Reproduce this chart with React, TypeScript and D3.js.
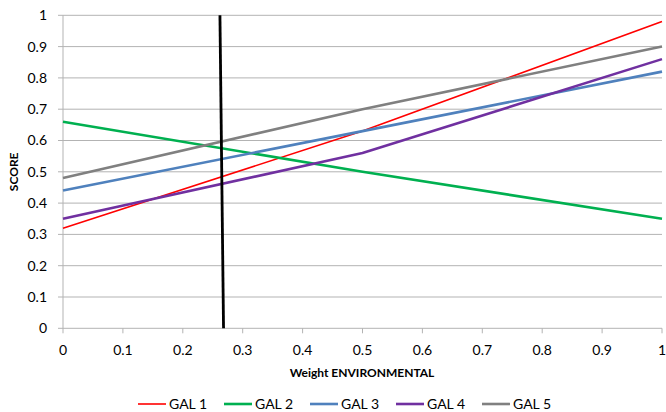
import React from "react";
import * as d3 from "d3";

const xValues = [0, 0.5, 1];
const gal1 = [0.32, 0.63, 0.98];
const gal2 = [0.66, 0.5, 0.35];
const gal3 = [0.44, 0.63, 0.82];
const gal4 = [0.35, 0.56, 0.86];
const gal5 = [0.48, 0.7, 0.9];
const seriesNames = ["GAL 1", "GAL 2", "GAL 3", "GAL 4", "GAL 5"];
const colors = ["#ff0000", "#00b050", "#4f81bd", "#7030a0", "#808080"];
const widths = [1.6, 2.6, 2.6, 2.6, 2.6];
const markerX = [0.262, 0.268];
const markerY = [1, 0];
const xTicks = [0, 0.1, 0.2, 0.3, 0.4, 0.5, 0.6, 0.7, 0.8, 0.9, 1];
const yTicks = [0, 0.1, 0.2, 0.3, 0.4, 0.5, 0.6, 0.7, 0.8, 0.9, 1];

export default function App() {
  const W = 666, H = 412;
  const x = d3.scaleLinear().domain([0, 1]).range([63, 662]);
  const y = d3.scaleLinear().domain([0, 1]).range([328.3, 15.3]);
  const data = [gal1, gal2, gal3, gal4, gal5];
  const line = d3.line<[number, number]>().x(d => x(d[0])).y(d => y(d[1]));
  const font = "Lato, 'Open Sans', sans-serif";
  const legendX = [138, 224, 310, 396, 482];
  return (
    <svg width={W} height={H} style={{ position: "absolute", left: 0, top: 0, background: "#fff" }}>
      {yTicks.map(t => (
        <g key={"y" + t}>
          <line x1={58} x2={662} y1={y(t)} y2={y(t)} stroke="#b3b3b3" strokeWidth={1} />
          <text x={47} y={y(t)} dy="0.35em" textAnchor="end" fontSize={14} fontFamily={font} fill="#000">{t}</text>
        </g>
      ))}
      <line x1={63} x2={63} y1={y(1)} y2={y(0)} stroke="#b3b3b3" strokeWidth={1} />
      {xTicks.map(t => (
        <g key={"x" + t}>
          <line x1={x(t)} x2={x(t)} y1={y(0)} y2={y(0) + 5} stroke="#b3b3b3" strokeWidth={1} />
          <text x={x(t)} y={350} dy="0.35em" textAnchor="middle" fontSize={14} fontFamily={font} fill="#000">{t}</text>
        </g>
      ))}
      {data.map((s, i) => (
        <path key={i} d={line(s.map((v, j) => [xValues[j], v]) as [number, number][]) || ""}
          fill="none" stroke={colors[i]} strokeWidth={widths[i]} strokeLinejoin="round" />
      ))}
      <path d={line(markerX.map((v, j) => [v, markerY[j]]) as [number, number][]) || ""} fill="none" stroke="#000" strokeWidth={2.8} />
      <text x={362} y={373} dy="0.35em" textAnchor="middle" fontSize={12} fontWeight="bold" fontFamily={font}>Weight ENVIRONMENTAL</text>
      <text transform={`translate(14,${y(0.5)}) rotate(-90)`} dy="0.35em" textAnchor="middle" fontSize={12} fontWeight="bold" fontFamily={font}>SCORE</text>
      {seriesNames.map((n, i) => (
        <g key={n}>
          <line x1={legendX[i]} x2={legendX[i] + 28} y1={404} y2={404} stroke={colors[i]} strokeWidth={widths[i]} />
          <text x={legendX[i] + 31} y={404} dy="0.35em" fontSize={14} fontFamily={font}>{n}</text>
        </g>
      ))}
    </svg>
  );
}
